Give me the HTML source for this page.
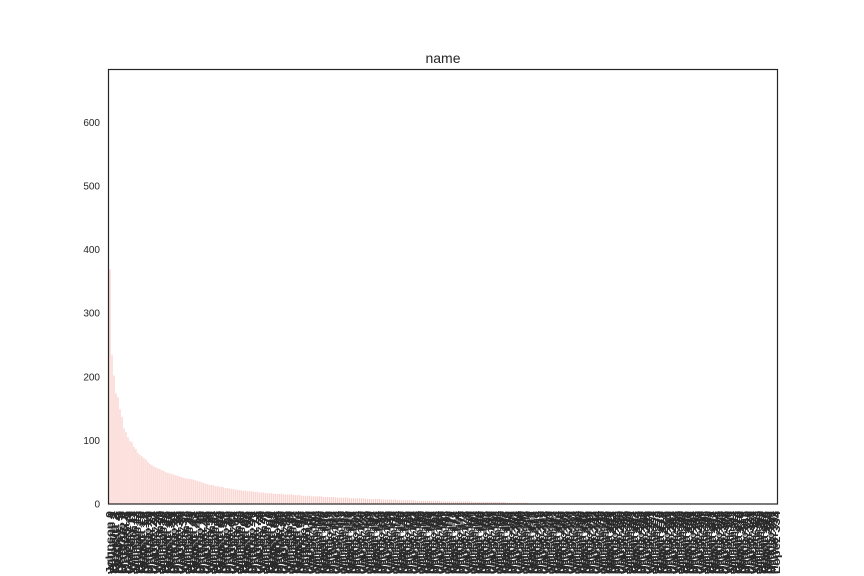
<!DOCTYPE html>
<html><head><meta charset="utf-8">
<style>
html,body{margin:0;padding:0;background:#fff;width:864px;height:576px;overflow:hidden;}
svg{display:block;font-family:"Liberation Sans",sans-serif;overflow:hidden;}
</style></head>
<body>
<svg id="chart" width="864" height="576" viewBox="0 0 864 576" xmlns="http://www.w3.org/2000/svg">
<rect width="864" height="576" fill="#fff"/>
<text x="443" y="63" font-size="14" text-anchor="middle" fill="#262626">name</text>
<g id="bars"></g>
<g id="yticks"></g>
<g id="xticks"></g>
<rect x="108.5" y="69.5" width="669" height="434.5" fill="none" stroke="#262626" stroke-width="1.2"/>
</svg>
<script>
const values = [369,234,202,174,168,149,137,119,113,105,99,97,90,86,
80,77,75,72,70,66,63,61,59,57,56,55,53,52,50,49,48,47,46,45,44,43,42,41,40,40,
39,39,38,37,36,35,34,33,32,31,30,30,29,28,28,27,27,26,25,25,24,24,23,23,22,22,21,21,21,20,20,20,
19,19,19,18,18,18,17,17,17,17,16,16,16,16,16,15,15,15,15,15,14,14,14,14,13,13,13,13,13,
12,12,12,12,12,12,11,11,11,11,11,11,10,10,10,10,10,10,10,9,9,9,9,9,9,9,9,8,8,8,8,8,8,8,8,
7,7,7,7,7,7,7,7,6,6,6,6,6,6,6,6,6,5,5,5,5,5,5,5,5,5,5,5,5,5,
4,4,4,4,4,4,4,4,4,4,4,4,4,4,4,4,3,3,3,3,3,3,3,3,3,3,3,3,3,3,3,3,3,2,2,2,2,2,2,2,2,2,2,2,
1,1,1,1,1,1,1,1,1,1,1,1,1,1,1,1,1,1,1,1,1,1,1,1,1,1,1,1,1,1,1,1,1,1,1,1,1,1,1,1,1,1,1,1,1,1,1,1,1,1,
1,1,1,1,1,1,1,1,1,1,1,1,1,1,1,1,1,1,1,1,1,1,1,1,1,1,1,1,1,1,1,1,1,1,1,1,1,1,1,1,1,1,1,1,1,1,1,1,1,1,
1,1,1,1,1,1,1,1,1,1,1,1,1,1,1,1,1,1,1,1,1,1,1,1,1];
const firstNames = ["Johnson","Williams","Brown","Garcia","Miller","Davis","Rodrigo","Martinez","Hernan","Lopez","Gonzalez","Wilson","Anderson"];
const categories = values.map((v,i)=>firstNames[i % firstNames.length] + " " + i);
const yTicks = [0,100,200,300,400,500,600];
const yMax = 683;

const L=108.5, R=777.5, T=69.5, B=504;
const n = values.length;
const step = (R-L)/n;
function xPos(i){ return L + (i+0.5)*step; }
function yPos(v){ return B - (v/yMax)*(B-T); }
const NS="http://www.w3.org/2000/svg";
const gb=document.getElementById('bars');
values.forEach((v,i)=>{
  const r=document.createElementNS(NS,'rect');
  const w=step*0.6;
  r.setAttribute('x',xPos(i)-w/2+0.5);
  r.setAttribute('y',yPos(v));
  r.setAttribute('width',w);
  r.setAttribute('height',B-yPos(v));
  r.setAttribute('fill','#f9cdc8');
  
  
  gb.appendChild(r);
});
const gy=document.getElementById('yticks');
yTicks.forEach(t=>{
  const tx=document.createElementNS(NS,'text');
  tx.setAttribute('x',100);
  tx.setAttribute('y',yPos(t)+3.5);
  tx.setAttribute('font-size','10');
  tx.setAttribute('text-anchor','end');
  tx.setAttribute('fill','#262626');
  tx.textContent=t;
  
  
  gy.appendChild(tx);
});
const gx=document.getElementById('xticks');
categories.forEach((c,i)=>{
  const tx=document.createElementNS(NS,'text');
  const x=xPos(i)+3.5, y=511;
  tx.setAttribute('x',x);
  tx.setAttribute('y',y);
  tx.setAttribute('font-size','10');
  tx.setAttribute('font-weight','bold');
  tx.setAttribute('text-anchor','end');
  tx.setAttribute('textLength','63');
  tx.setAttribute('lengthAdjust','spacingAndGlyphs');
  tx.setAttribute('fill','#2a2a2a');
  tx.setAttribute('transform','rotate(-90 '+x+' '+y+')');
  tx.textContent=c;
  
  
  gx.appendChild(tx);
});
</script>
</body></html>
